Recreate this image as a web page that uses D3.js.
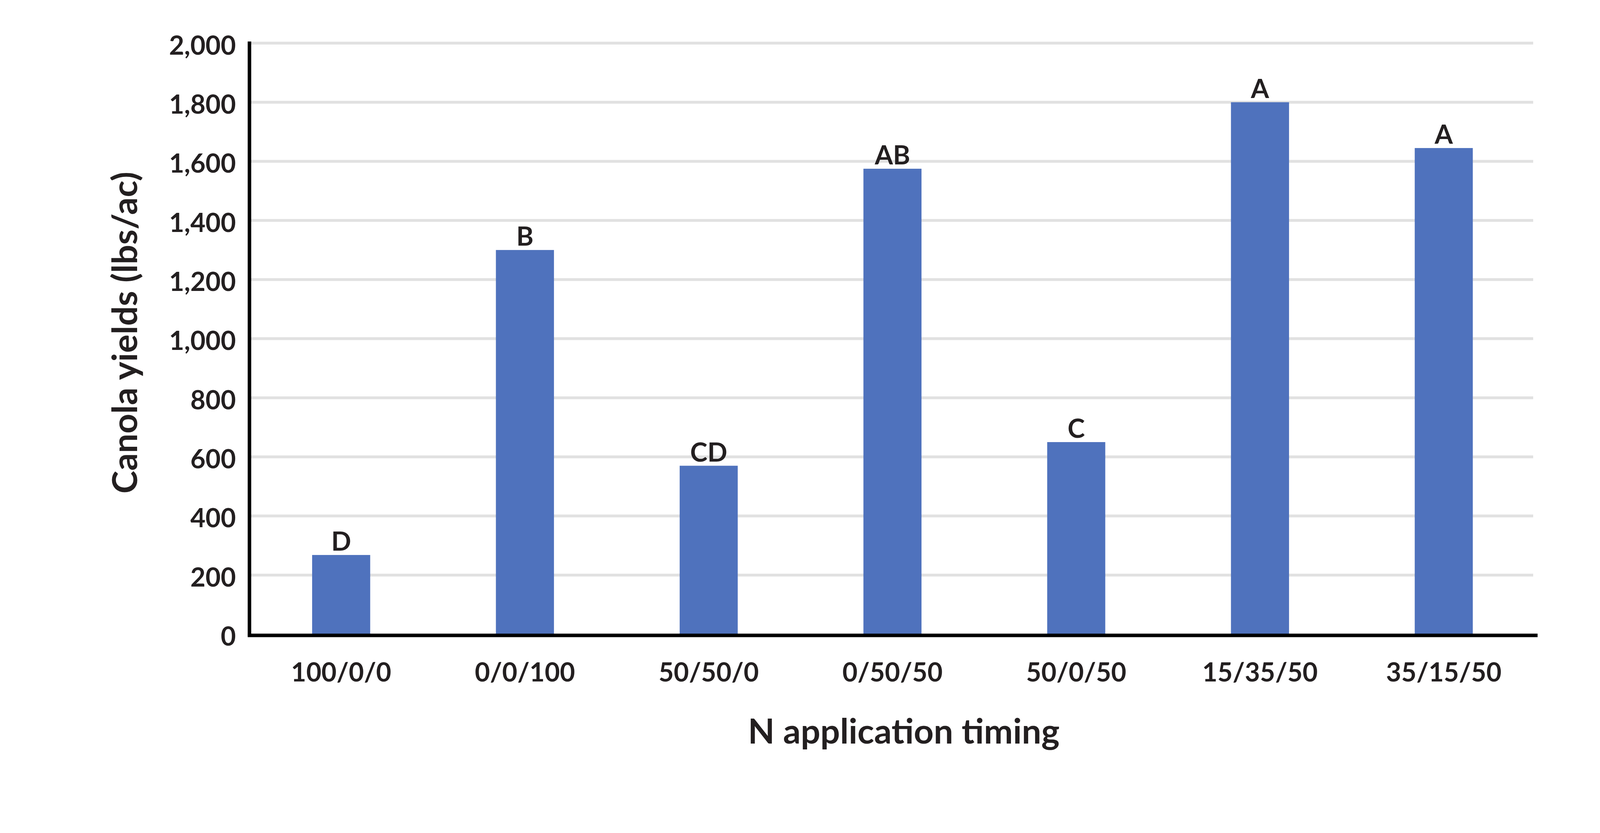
<!DOCTYPE html>
<html>
<head>
<meta charset="utf-8">
<script src="https://cdn.jsdelivr.net/npm/d3@7"></script>
<style>
  html, body { margin: 0; padding: 0; background: #fff; overflow: hidden; }
  svg { display: block; width: 100vw; height: 100vh; }
  text { font-family: Lato, "Open Sans", sans-serif; font-weight: bold; fill: #231f20; }
</style>
</head>
<body>
<script>
// chart data
var timings = ["100/0/0", "0/0/100", "50/50/0", "0/50/50", "50/0/50", "15/35/50", "35/15/50"];
var yields = [268, 1300, 570, 1575, 650, 1800, 1645];
var letters = ["D", "B", "CD", "AB", "C", "A", "A"];
var yTicks = [0, 200, 400, 600, 800, 1000, 1200, 1400, 1600, 1800, 2000];

var width = 4525;
var height = 2133;
var plotLeft = 705, plotRight = 4343, plotTop = 122, plotBottom = 1794;

// viewBox so the whole chart fits whatever the window really is, pinned top-left
var svg = d3.select("body")
            .append("svg")
            .attr("viewBox", "0 0 " + width + " " + height)
            .attr("preserveAspectRatio", "xMinYMin meet");

var x = d3.scaleBand()
          .domain(timings)
          .range([plotLeft, plotRight])
          .paddingInner(0.684)
          .paddingOuter(0.342);

var y = d3.scaleLinear()
          .domain([0, 2000])
          .range([plotBottom, plotTop]);

// gridlines (no line at 0)
svg.append("g")
   .selectAll("line")
   .data(yTicks.filter(function(d) { return d > 0; }))
   .enter()
   .append("line")
   .attr("x1", plotLeft + 5)
   .attr("x2", 4336)
   .attr("y1", function(d) { return y(d); })
   .attr("y2", function(d) { return y(d); })
   .attr("stroke", "#e1e1e1")
   .attr("stroke-width", 8);

// bars
svg.append("g")
   .selectAll("rect")
   .data(yields)
   .enter()
   .append("rect")
   .attr("x", function(d, i) { return x(timings[i]); })
   .attr("y", function(d) { return y(d); })
   .attr("width", x.bandwidth())
   .attr("height", function(d) { return y(0) - y(d); })
   .attr("fill", "#4f72bd");

// significance letters
svg.append("g")
   .selectAll("text")
   .data(letters)
   .enter()
   .append("text")
   .attr("x", function(d, i) { return x(timings[i]) + x.bandwidth() / 2; })
   .attr("y", function(d, i) { return y(yields[i]) - 12; })
   .attr("text-anchor", "middle")
   .style("font-size", "74px")
   .text(function(d) { return d; });

// y axis
var yAxis = d3.axisLeft(y)
              .tickValues(yTicks)
              .tickFormat(d3.format(","))
              .tickSize(0)
              .tickSizeOuter(0)
              .tickPadding(38);

var gy = svg.append("g")
            .attr("transform", "translate(" + plotLeft + ",0)")
            .call(yAxis);
gy.select(".domain").attr("stroke", "#000").attr("stroke-width", 10).attr("stroke-linecap", "square");
gy.selectAll("text")
  .attr("dy", "0.43em")
  .attr("fill", "#231f20")
  .style("font-size", "74px")
  .style("font-family", "Lato, sans-serif")
  .style("font-weight", "bold");

// x axis
var xAxis = d3.axisBottom(x)
              .tickSize(0)
              .tickSizeOuter(0)
              .tickPadding(78);

var gx = svg.append("g")
            .attr("transform", "translate(0," + (plotBottom + 3) + ")")
            .call(xAxis);
gx.select(".domain").attr("stroke", "#000").attr("stroke-width", 10).attr("stroke-linecap", "square");
gx.selectAll("text")
  .attr("fill", "#231f20")
  .style("font-size", "74px")
  .style("font-family", "Lato, sans-serif")
  .style("font-weight", "bold");

// axis titles
svg.append("text")
   .attr("x", 2556)
   .attr("y", 2103)
   .attr("text-anchor", "middle")
   .style("font-size", "98px")
   .text("N application timing");

svg.append("text")
   .attr("transform", "translate(388,941) rotate(-90)")
   .attr("text-anchor", "middle")
   .style("font-size", "98px")
   .text("Canola yields (lbs/ac)");
</script>
</body>
</html>
